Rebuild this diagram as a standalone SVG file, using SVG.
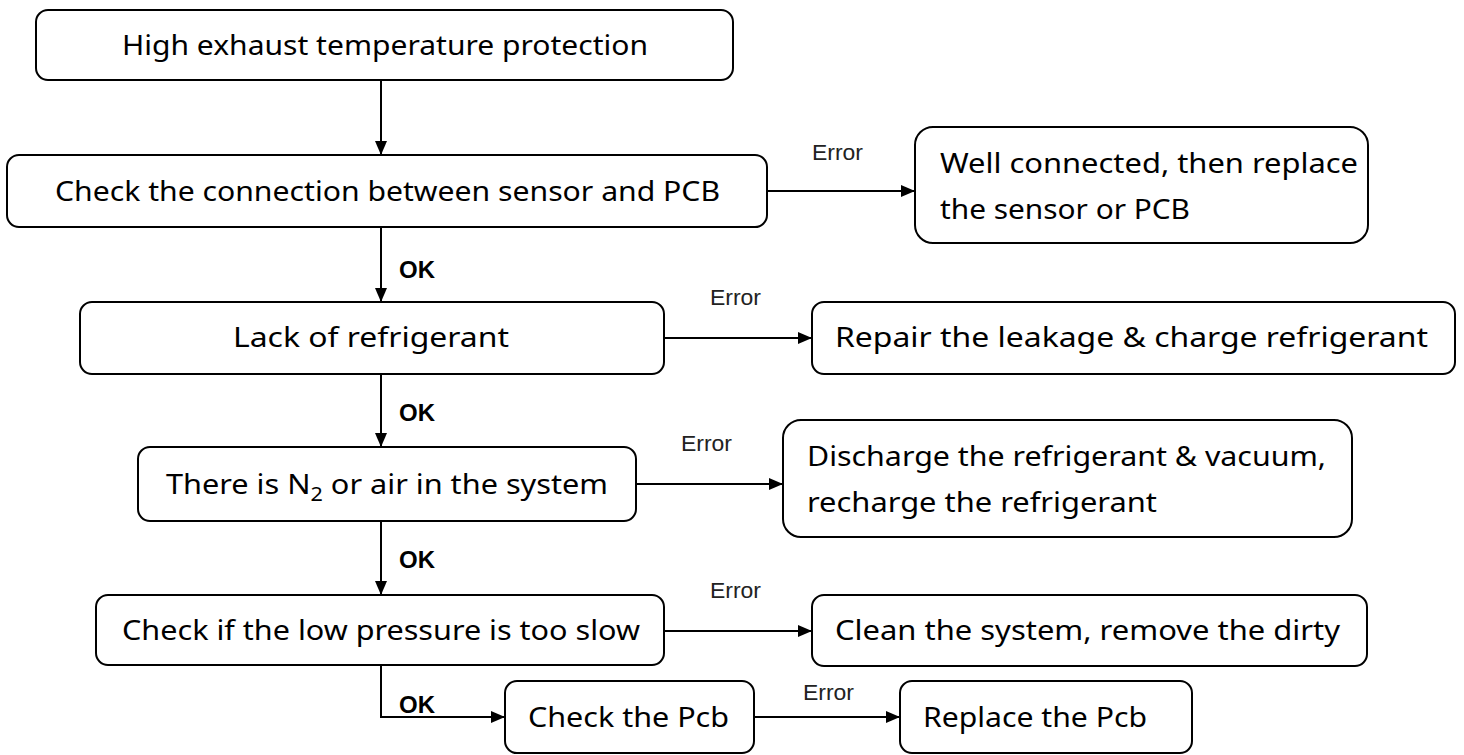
<svg xmlns="http://www.w3.org/2000/svg" width="1464" height="755" viewBox="0 0 1464 755">
<style>
.box{fill:#fff;stroke:#000;stroke-width:2}
.t{font-family:"Noto Sans","DejaVu Sans",sans-serif;font-size:27px;fill:#000}
.err{font-family:"Liberation Sans",Arial,sans-serif;font-size:22px;fill:#222}
.ok{font-family:"Liberation Sans",Arial,sans-serif;font-size:24px;font-weight:bold;fill:#000}
.c{fill:none;stroke:#000;stroke-width:2;marker-end:url(#ah)}
</style>
<defs>
<marker id="ah" viewBox="0 0 14 12" refX="14" refY="6" markerWidth="14" markerHeight="12" markerUnits="userSpaceOnUse" orient="auto">
<path d="M0,0 L14,6 L0,12 Z" fill="#000"/>
</marker>
</defs>
<rect width="1464" height="755" fill="#fff"/>
<g id="connectors">
<path class="c" d="M381,80 V155"/>
<path class="c" d="M381,227 V302"/>
<path class="c" d="M381,374 V447"/>
<path class="c" d="M381,521 V595"/>
<path class="c" d="M381,665 V717 H505"/>
<path class="c" d="M767,191 H915"/>
<path class="c" d="M664,338 H812"/>
<path class="c" d="M636,484 H783"/>
<path class="c" d="M664,631 H812"/>
<path class="c" d="M754,717 H900"/>
<text class="ok" x="399" y="278">OK</text>
<text class="ok" x="399" y="421">OK</text>
<text class="ok" x="399" y="568">OK</text>
<text class="ok" x="399" y="713">OK</text>
<text class="err" x="812" y="160" textLength="51" lengthAdjust="spacingAndGlyphs">Error</text>
<text class="err" x="710" y="305" textLength="51" lengthAdjust="spacingAndGlyphs">Error</text>
<text class="err" x="681" y="451" textLength="51" lengthAdjust="spacingAndGlyphs">Error</text>
<text class="err" x="710" y="598" textLength="51" lengthAdjust="spacingAndGlyphs">Error</text>
<text class="err" x="803" y="700" textLength="51" lengthAdjust="spacingAndGlyphs">Error</text>
</g>
<g id="n1"><rect class="box" x="36" y="10" width="697" height="70" rx="12"/><text class="t" x="122" y="55" textLength="526" lengthAdjust="spacingAndGlyphs">High exhaust temperature protection</text></g>
<g id="n2"><rect class="box" x="7" y="155" width="760" height="72" rx="12"/><text class="t" x="55" y="201" textLength="665" lengthAdjust="spacingAndGlyphs">Check the connection between sensor and PCB</text></g>
<g id="n3"><rect class="box" x="915" y="127" width="453" height="116" rx="18"/><text class="t" x="940" y="173" textLength="418" lengthAdjust="spacingAndGlyphs">Well connected, then replace</text><text class="t" x="940" y="219" textLength="250" lengthAdjust="spacingAndGlyphs">the sensor or PCB</text></g>
<g id="n4"><rect class="box" x="80" y="302" width="584" height="72" rx="12"/><text class="t" x="233" y="347" textLength="276" lengthAdjust="spacingAndGlyphs">Lack of refrigerant</text></g>
<g id="n5"><rect class="box" x="812" y="302" width="643" height="72" rx="12"/><text class="t" x="835" y="347" textLength="593" lengthAdjust="spacingAndGlyphs">Repair the leakage &amp; charge refrigerant</text></g>
<g id="n6"><rect class="box" x="138" y="447" width="498" height="74" rx="12"/><text class="t" x="166" y="494" textLength="442" lengthAdjust="spacingAndGlyphs">There is N<tspan font-size="19" dy="7">2</tspan><tspan dy="-7"> or air in the system</tspan></text></g>
<g id="n7"><rect class="box" x="783" y="420" width="569" height="117" rx="18"/><text class="t" x="807" y="466" textLength="519" lengthAdjust="spacingAndGlyphs">Discharge the refrigerant &amp; vacuum,</text><text class="t" x="807" y="512" textLength="350" lengthAdjust="spacingAndGlyphs">recharge the refrigerant</text></g>
<g id="n8"><rect class="box" x="96" y="595" width="568" height="70" rx="12"/><text class="t" x="122" y="640" textLength="518" lengthAdjust="spacingAndGlyphs">Check if the low pressure is too slow</text></g>
<g id="n9"><rect class="box" x="812" y="595" width="555" height="71" rx="12"/><text class="t" x="835" y="640" textLength="505" lengthAdjust="spacingAndGlyphs">Clean the system, remove the dirty</text></g>
<g id="n10"><rect class="box" x="505" y="681" width="249" height="72" rx="12"/><text class="t" x="528" y="727" textLength="201" lengthAdjust="spacingAndGlyphs">Check the Pcb</text></g>
<g id="n11"><rect class="box" x="900" y="681" width="292" height="72" rx="12"/><text class="t" x="923" y="727" textLength="224" lengthAdjust="spacingAndGlyphs">Replace the Pcb</text></g>
</svg>
